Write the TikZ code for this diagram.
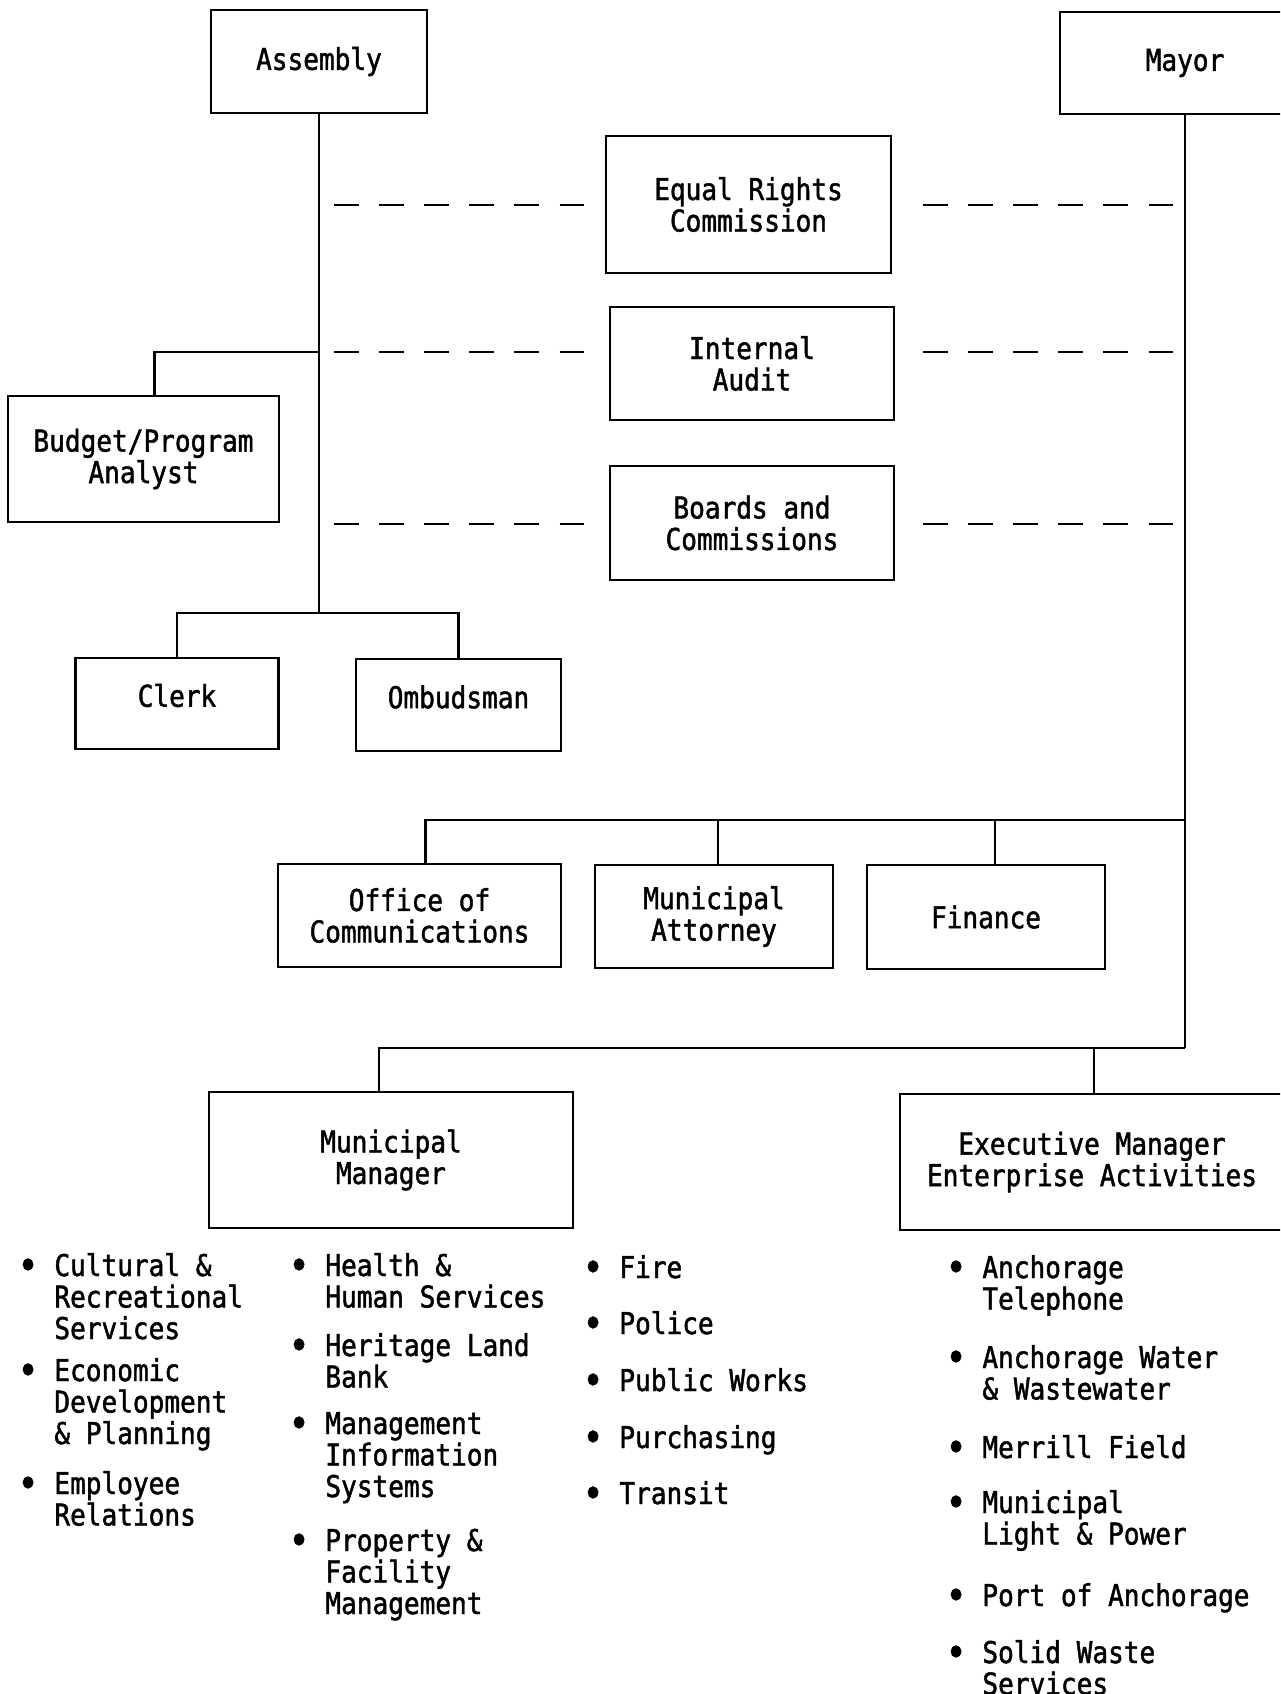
\documentclass[tikz,border=0pt]{standalone}
\usepackage{fontspec}
\setmonofont[FakeStretch=0.87,FakeBold=1.5]{DejaVu Sans Mono}
\usetikzlibrary{calc}
\newcommand{\blt}{\llap{\raisebox{-3.5pt}{\scalebox{1.35}{\textbullet}}\ }}
\begin{document}
\begin{tikzpicture}[x=1pt,y=-1pt,font=\ttfamily\fontsize{30}{31.5}\selectfont,line width=2.8pt,
	box/.style={draw,fill=white,align=center,inner sep=0pt},
	item/.style={anchor=base west,align=left,inner sep=0pt},
	dashline/.style={dash pattern=on 24.5pt off 20.6pt}]
	\useasboundingbox (0,0) rectangle (1280,1694);
	\fill[white] (0,0) rectangle (1280,1694);
	\clip (0,0) rectangle (1280,1694);
	\node[box,minimum width=216pt,minimum height=103pt] (asm) at (319,61.5) {Assembly};
	\node[box,minimum width=250pt,minimum height=102pt] (mayor) at (1185,63) {Mayor};
	\node[box,minimum width=285pt,minimum height=137pt] (erc) at (748.5,204.5) {Equal Rights\\Commission};
	\node[box,minimum width=284pt,minimum height=113pt] (audit) at (752,363.5) {Internal\\Audit};
	\node[box,minimum width=284pt,minimum height=114pt] (boards) at (752,523) {Boards and\\Commissions};
	\node[box,minimum width=271pt,minimum height=126pt] (bud) at (143.5,459) {Budget/Program\\Analyst};
	\node[box,minimum width=203pt,minimum height=91pt] (clerk) at (177,703.5) {\raisebox{8pt}[\height][\depth]{Clerk}};
	\node[box,minimum width=205pt,minimum height=92pt] (omb) at (458.5,705) {\raisebox{8pt}[\height][\depth]{Ombudsman}};
	\node[box,minimum width=283pt,minimum height=103pt] (comms) at (419.5,915.5) {Office of\\Communications};
	\node[box,minimum width=238pt,minimum height=103pt] (atty) at (714,916.5) {Municipal\\Attorney};
	\node[box,minimum width=238pt,minimum height=104pt] (fin) at (986,917) {Finance};
	\node[box,minimum width=364pt,minimum height=136pt] (mgr) at (391,1160) {Municipal\\Manager};
	\node[box,minimum width=384pt,minimum height=136pt] (exec) at (1092,1162) {Executive Manager\\Enterprise Activities};
	\coordinate (abud) at (asm.south |- 0,352);
	\coordinate (aend) at (asm.south |- 0,613);
	\coordinate (mstaff) at (mayor.south |- 0,820);
	\coordinate (mend) at (mayor.south |- 0,1048);
	\draw (asm.south) -- (aend);
	\draw ([xshift=11pt]bud.north) |- (abud);
	\draw (clerk.north) |- (aend) -| (omb.north);
	\draw (mayor.south) -- (mend);
	\draw ([xshift=6pt]comms.north) |- (mstaff);
	\draw ([xshift=4pt]atty.north) -- ([xshift=4pt]atty.north |- mstaff);
	\draw ([xshift=9pt]fin.north) -- ([xshift=9pt]fin.north |- mstaff);
	\draw ([xshift=-12pt]mgr.north) |- (mend);
	\draw ([xshift=2pt]exec.north) -- ([xshift=2pt]exec.north |- mend);
	\foreach \y in {205,352,524}{
		\draw[dashline] ($(asm.south |- 0,\y)+(15,0)$) -- ($(asm.south |- 0,\y)+(265,0)$);
		\draw[dashline] ($(mayor.south |- 0,\y)+(-262,0)$) -- ($(mayor.south |- 0,\y)+(-11,0)$);
	}
	\foreach \x/\y/\t [count=\i] in {
		53/1339/{Cultural \&\\Recreational\\Services},
		53/1444/{Economic\\Development\\\& Planning},
		53/1525.5/{Employee\\Relations},
		324/1307.5/{Health \&\\Human Services},
		324/1387.5/{Heritage Land\\Bank},
		324/1497/{Management\\Information\\Systems},
		324/1614/{Property \&\\Facility\\Management},
		618/1278/{Fire},
		618/1334/{Police},
		618/1391/{Public Works},
		618/1448/{Purchasing},
		618/1504/{Transit},
		981/1309.5/{Anchorage\\Telephone},
		981/1399.5/{Anchorage Water\\\& Wastewater},
		981/1458/{Merrill Field},
		981/1544.5/{Municipal\\Light \& Power},
		981/1606/{Port of Anchorage},
		981/1694.5/{Solid Waste\\Services}}
		\node[item] (it\i) at (\x,\y) {\blt\t};
\end{tikzpicture}
\end{document}
